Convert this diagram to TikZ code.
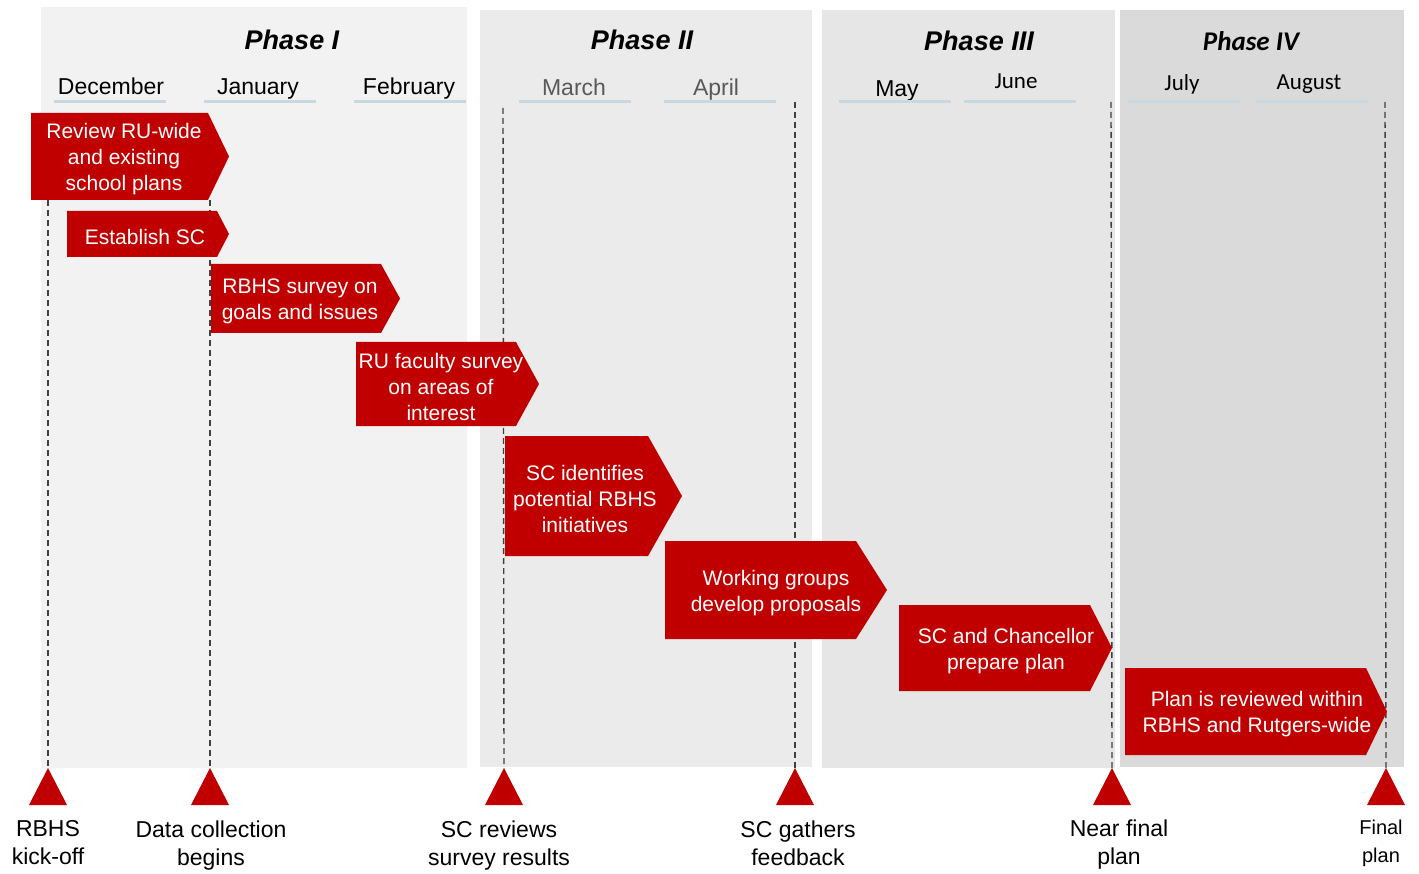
\documentclass[tikz,border=0pt]{standalone}
\usepackage{fontspec}
\setmainfont{Liberation Sans}
\newfontfamily\calib{Carlito}
\definecolor{rred}{HTML}{C00000}
\definecolor{phA}{HTML}{F2F2F2}
\definecolor{phB}{HTML}{EBEBEB}
\definecolor{phC}{HTML}{E6E6E6}
\definecolor{phD}{HTML}{DADADA}
\definecolor{uline}{HTML}{C9D7DE}
\definecolor{mgrey}{HTML}{595959}
\definecolor{dline}{HTML}{404040}
\tikzset{
  phasetitle/.style={anchor=base, font=\fontsize{27}{30}\selectfont\bfseries\itshape, inner sep=0pt},
  monthlbl/.style={anchor=base, font=\fontsize{23}{26}\selectfont, inner sep=0pt},
  calmonth/.style={anchor=base, font=\calib\fontsize{23}{26}\selectfont, inner sep=0pt},
  monthline/.style={uline, line width=3pt},
  chtext/.style={text=white, align=center, font=\fontsize{21}{26}\selectfont, inner sep=0pt},
  dashline/.style={dline, line width=1.4pt, dash pattern=on 6pt off 4pt},
  mslabel/.style={align=center, font=\fontsize{23}{28}\selectfont, inner sep=0pt},
}
\newcommand\chevron[8]{%
  \fill[rred] (#2,#3) -- (#4,#3) -- (#5,{(#3+#6)/2}) -- (#4,#6) -- (#2,#6) -- cycle;
  \node[chtext] (#1) at (#7,{(#3+#6)/2+3}) {#8};}
\newcommand\milestone[2]{%
  \fill[rred] (#2,768) -- (#2+19,805) -- (#2-19,805) -- cycle;
  \coordinate (#1) at (#2,768);}
\begin{document}
\begin{tikzpicture}[x=1pt,y=-1pt]
\useasboundingbox (0,0) rectangle (1419,874);
\fill[white] (0,0) rectangle (1419,874);
% phase backgrounds
\fill[phA] (41,7) rectangle (467,768);
\fill[phB] (480,10) rectangle (812,767);
\fill[phC] (822,10) rectangle (1115,768);
\fill[phD] (1120,10) rectangle (1404,767);
% phase titles
\node[phasetitle] (p1) at (292,50) {Phase I};
\node[phasetitle] (p2) at (642,50) {Phase II};
\node[phasetitle] (p3) at (979,51) {Phase III};
\node[phasetitle, font=\calib\fontsize{27}{30}\selectfont\bfseries\itshape] (p4) at (1251,51) {Phase IV};
% months
\node[monthlbl] (mdec) at (111,95) {December};
\node[monthlbl] (mjan) at (258,95) {January};
\node[monthlbl] (mfeb) at (409,95) {February};
\node[monthlbl, text=mgrey] (mmar) at (574,96) {March};
\node[monthlbl, text=mgrey] (mapr) at (716,96) {April};
\node[monthlbl] (mmay) at (897,97) {May};
\node[calmonth] (mjun) at (1016,89) {June};
\node[calmonth] (mjul) at (1182,91) {July};
\node[calmonth] (maug) at (1309,90) {August};
\draw[monthline] (54,102) -- (166,102);
\draw[monthline] (204,102) -- (316,102);
\draw[monthline] (354,102) -- (466,102);
\draw[monthline] (519,102) -- (631,102);
\draw[monthline] (664,102) -- (776,102);
\draw[monthline] (839,102) -- (951,102);
\draw[monthline] (964,102) -- (1076,102);
\draw[monthline] (1128,102) -- (1240,102);
\draw[monthline] (1256,102) -- (1368,102);
% milestones
\milestone{t1}{48}
\milestone{t2}{210}
\milestone{t3}{504}
\milestone{t4}{795}
\milestone{t5}{1112}
\milestone{t6}{1386}
\coordinate (s1) at (48,200);
\coordinate (s2) at (210,200);
\coordinate (s3) at (503,108);
\coordinate (s4) at (795,102);
\coordinate (s5) at (1111,102);
\coordinate (s6) at (1385,102);
\draw[dashline] (s1) -- (t1);
\draw[dashline] (s2) -- (t2);
\draw[dashline] (s3) -- (t3);
\draw[dashline] (s4) -- (t4);
\draw[dashline] (s5) -- (t5);
\draw[dashline] (s6) -- (t6);
% activities
\chevron{a1}{31}{113}{208}{229}{200}{124}{Review RU-wide\\and existing\\school plans}
\chevron{a2}{67}{211}{217}{229}{257}{145}{Establish SC}
\chevron{a3}{211}{264}{381}{400}{333}{300}{RBHS survey on\\goals and issues}
\chevron{a4}{356}{342}{516}{539}{426}{441}{RU faculty survey\\on areas of\\interest}
\chevron{a5}{505}{436}{648}{682}{556}{585}{SC identifies\\potential RBHS\\initiatives}
\chevron{a6}{665}{541}{856}{887}{639}{776}{Working groups\\develop proposals}
\chevron{a7}{899}{605}{1090}{1112}{691}{1006}{SC and Chancellor\\prepare plan}
\chevron{a8}{1125}{668}{1366}{1387}{755}{1257}{Plan is reviewed within\\RBHS and Rutgers-wide}
% milestone labels
\node[mslabel] (l1) at (48,843) {RBHS\\kick-off};
\node[mslabel] (l2) at (211,846) {Data collection\\begins};
\node[mslabel] (l3) at (499,846) {SC reviews\\survey results};
\node[mslabel] (l4) at (798,843) {SC gathers\\feedback};
\node[mslabel] (l5) at (1119,845) {Near final\\plan};
\node[mslabel, font=\fontsize{20}{28}\selectfont] (l6) at (1381,843) {Final\\plan};
\end{tikzpicture}
\end{document}
